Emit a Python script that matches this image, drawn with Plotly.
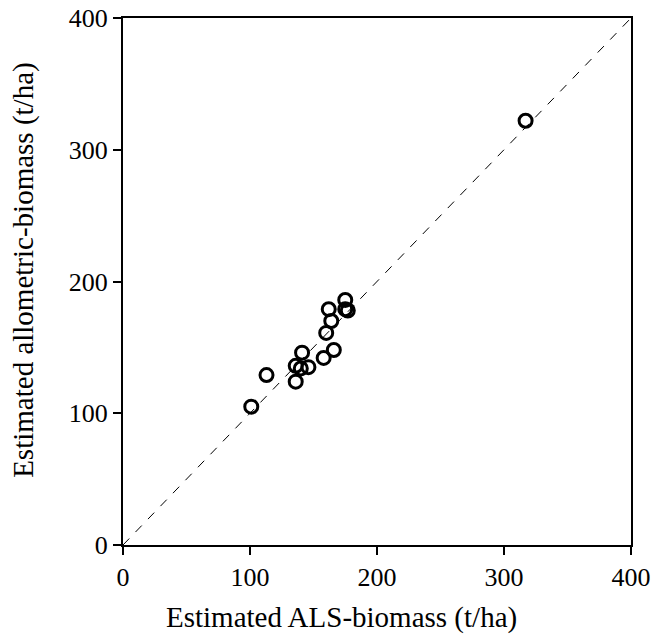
import plotly.graph_objects as go

als_biomass = [101, 113, 136, 136, 141, 140, 146, 158, 166, 160, 164, 162, 175, 177, 175, 317]
allometric_biomass = [105, 129, 124, 136, 146, 134, 135, 142, 148, 161, 170, 179, 186, 178, 179, 322]
line_range = [0, 400]
tick_vals = [0, 100, 200, 300, 400]
x_title = "Estimated ALS-biomass (t/ha)"
y_title = "Estimated allometric-biomass (t/ha)"

fig = go.Figure()
fig.add_trace(go.Scatter(x=line_range, y=line_range, mode="lines",
                         line=dict(color="black", width=1, dash="dash"), hoverinfo="skip"))
fig.add_trace(go.Scatter(x=als_biomass, y=allometric_biomass, mode="markers",
                         marker=dict(symbol="circle-open", size=13, color="black",
                                     line=dict(width=3, color="black"))))

axis_common = dict(range=[0, 400], tickvals=tick_vals, showgrid=False, zeroline=False,
                   showline=True, linecolor="black", linewidth=2, mirror=True,
                   ticks="outside", ticklen=8, tickwidth=2, tickcolor="black",
                   automargin=False,
                   tickfont=dict(family="Liberation Serif", size=26, color="black"))

fig.update_xaxes(**axis_common)
fig.update_yaxes(**axis_common)

title_font = dict(family="Liberation Serif", size=29, color="black")
fig.add_annotation(text=x_title, xref="paper", yref="paper", x=0.431, y=-0.138,
                   xanchor="center", yanchor="middle", showarrow=False, font=title_font)
fig.add_annotation(text=y_title, xref="paper", yref="paper", x=-0.195, y=0.522,
                   xanchor="center", yanchor="middle", showarrow=False, textangle=-90,
                   font=title_font)

fig.update_layout(width=655, height=637, showlegend=False,
                  plot_bgcolor="white", paper_bgcolor="white",
                  margin=dict(l=123, r=24, t=18, b=92))

fig.write_html("out.html")
